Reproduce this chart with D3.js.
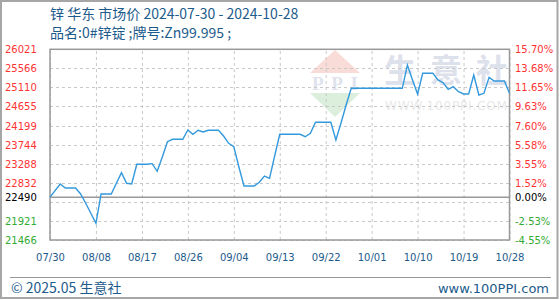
<!DOCTYPE html>
<html>
<head>
<meta charset="utf-8">
<script src="https://cdn.jsdelivr.net/npm/d3@7"></script>
<style>
  body { margin: 0; background: #fff; }
  svg { display: block; }
</style>
</head>
<body>
<div id="chart"></div>
<script>
// price series (zinc, East China)
const dates = ["2024-07-30","2024-08-01","2024-08-02","2024-08-04","2024-08-05","2024-08-06","2024-08-07","2024-08-08",
  "2024-08-09","2024-08-11","2024-08-12","2024-08-13","2024-08-14","2024-08-15","2024-08-16","2024-08-18","2024-08-19",
  "2024-08-20","2024-08-21","2024-08-22","2024-08-23","2024-08-25","2024-08-26","2024-08-27","2024-08-28","2024-08-29",
  "2024-08-30","2024-09-01","2024-09-02","2024-09-03","2024-09-04","2024-09-05","2024-09-06","2024-09-08","2024-09-09",
  "2024-09-10","2024-09-11","2024-09-12","2024-09-13","2024-09-17","2024-09-18","2024-09-19","2024-09-20","2024-09-23",
  "2024-09-24","2024-09-25","2024-09-26","2024-09-27","2024-10-07","2024-10-08","2024-10-09","2024-10-10","2024-10-11",
  "2024-10-13","2024-10-14","2024-10-15","2024-10-16","2024-10-17","2024-10-18","2024-10-19","2024-10-20","2024-10-21",
  "2024-10-22","2024-10-23","2024-10-24","2024-10-25","2024-10-27","2024-10-28"];
const prices = [22490,22804,22708,22708,22565,22343,22104,21865,
  22565,22565,22820,23074,22820,22804,23274,23274,23290,
  23107,23450,23814,23871,23871,24093,23991,24086,24046,
  24086,24086,23950,23776,23695,23210,22756,22756,22844,
  22995,22940,23472,23991,23991,23933,24015,24277,24277,
  23855,24261,24691,25089,25089,25646,25288,24953,25448,
  25448,25288,25223,25066,25128,25008,24953,24953,25407,
  24929,24970,25352,25264,25264,24970];

const basePrice = 22490;
const gridPrices = [21466,21921,22377,22832,23288,23744,24199,24655,25110,25566,26021];
const leftLabels = [26021,25566,25110,24655,24199,23744,23288,22832,22490,21921,21466];
const rightLabels = ["15.70%","13.68%","11.65%","9.63%","7.60%","5.58%","3.55%","1.52%","0.00%","-2.53%","-4.55%"];
const xTicks = ["2024-07-30","2024-08-08","2024-08-17","2024-08-26","2024-09-04","2024-09-13",
  "2024-09-22","2024-10-01","2024-10-10","2024-10-19","2024-10-28"];

const titleText = "锌 华东 市场价 2024-07-30 - 2024-10-28";
const subTitleText = "品名:0#锌锭 ;牌号:Zn99.995 ;";

const config = {
    width: 560,
    height: 300,
    left: 50,
    right: 509.5,
    top: 49.3,
    bottom: 240
};

const parse = d3.timeParse("%Y-%m-%d");
const data = dates.map((d, i) => ({date: parse(d), price: prices[i]}));

const svg = d3.select("#chart")
    .append("svg")
    .attr("width", config.width)
    .attr("height", config.height);

// outer frame
svg.append("rect")
    .attr("x", 1).attr("y", 1)
    .attr("width", 556.5).attr("height", 297)
    .attr("fill", "none")
    .attr("stroke", "#a6a6a6")
    .attr("stroke-width", 2);

const xScale = d3.scaleTime()
    .domain([parse("2024-07-30"), parse("2024-10-28")])
    .range([config.left, config.right]);

const yScale = d3.scaleLinear()
    .domain([21466, 26021])
    .range([config.bottom, config.top]);

// watermark
const wm = svg.append("g").attr("class", "watermark");
wm.append("path")
    .attr("d", "M335,50 L360,73 L310,73 Z")
    .attr("fill", "#f9dcd7");
wm.append("path")
    .attr("d", "M310,93 L360,93 L335,117 Z")
    .attr("fill", "#dcefdc");
wm.append("text")
    .attr("x", 335).attr("y", 90)
    .attr("text-anchor", "middle")
    .style("font-family", "'Liberation Serif', serif")
    .style("font-size", "19px")
    .style("font-weight", "bold")
    .attr("fill", "#dfe3ee")
    .attr("textLength", 46)
    .text("PPI");
wm.append("text")
    .attr("x", 384).attr("y", 82)
    .style("font-family", "'Noto Sans CJK SC', sans-serif")
    .style("font-size", "32px")
    .style("font-weight", "bold")
    .attr("fill", "#dde1eb")
    .attr("textLength", 124)
    .text("生意社");
wm.append("text")
    .attr("x", 385).attr("y", 110)
    .style("font-family", "'DejaVu Sans', sans-serif")
    .style("font-size", "12px")
    .attr("fill", "#e8e8e8")
    .attr("textLength", 122)
    .text("WWW.100PPI.COM");

// horizontal dashed grid
svg.append("g")
    .selectAll("line")
    .data(gridPrices)
    .enter().append("line")
    .attr("x1", config.left).attr("x2", config.right)
    .attr("y1", d => Math.round(yScale(d)) + 0.5)
    .attr("y2", d => Math.round(yScale(d)) + 0.5)
    .attr("stroke", "#c8c8c8")
    .attr("stroke-dasharray", "3,3");

// vertical dashed grid
svg.append("g")
    .attr("transform", "translate(0," + config.bottom + ")")
    .call(d3.axisBottom(xScale)
        .tickValues(xTicks.map(parse))
        .tickSize(-(config.bottom - config.top))
        .tickFormat(""))
    .call(g => g.select(".domain").remove())
    .call(g => g.selectAll(".tick line")
        .attr("stroke", "#c8c8c8")
        .attr("stroke-dasharray", "3,3"));

// base price line
svg.append("line")
    .attr("x1", config.left).attr("x2", config.right)
    .attr("y1", yScale(basePrice)).attr("y2", yScale(basePrice))
    .attr("stroke", "#999")
    .attr("stroke-width", 1.5);

// plot frame
svg.append("rect")
    .attr("x", config.left).attr("y", config.top)
    .attr("width", config.right - config.left)
    .attr("height", config.bottom - config.top)
    .attr("fill", "none")
    .attr("stroke", "#999")
    .attr("stroke-width", 1.5);

// price line
const line = d3.line()
    .x(d => xScale(d.date))
    .y(d => yScale(d.price));

svg.append("path")
    .datum(data)
    .attr("d", line)
    .attr("fill", "none")
    .attr("stroke", "#3399dd")
    .attr("stroke-width", 1.4);

const tickColor = v => v > basePrice ? "#ff3333" : (v < basePrice ? "#33aa33" : "#000");

// left labels
svg.append("g")
    .selectAll("text")
    .data(leftLabels)
    .enter().append("text")
    .attr("x", 5)
    .attr("y", d => yScale(d) + 4)
    .style("font-family", "'DejaVu Sans', sans-serif")
    .style("font-size", "10px")
    .attr("fill", d => tickColor(d))
    .text(d => d);

// right labels
svg.append("g")
    .selectAll("text")
    .data(rightLabels)
    .enter().append("text")
    .attr("x", 515)
    .attr("y", (d, i) => yScale(leftLabels[i]) + 4)
    .style("font-family", "'DejaVu Sans', sans-serif")
    .style("font-size", "10px")
    .attr("fill", (d, i) => tickColor(leftLabels[i]))
    .text(d => d);

// x labels
svg.append("g")
    .attr("transform", "translate(0," + config.bottom + ")")
    .call(d3.axisBottom(xScale)
        .tickValues(xTicks.map(parse))
        .tickSize(0)
        .tickPadding(14)
        .tickFormat(d3.timeFormat("%m/%d")))
    .call(g => g.select(".domain").remove())
    .call(g => g.selectAll(".tick text")
        .attr("fill", "#1d5b8c")
        .style("font-family", "'DejaVu Sans', sans-serif")
        .style("font-size", "10px"));

// titles
svg.append("text")
    .attr("x", 50).attr("y", 19)
    .style("font-family", "'Noto Sans CJK SC', sans-serif")
    .style("font-size", "14px")
    .attr("fill", "#1d5b8c")
    .text(titleText);

svg.append("text")
    .attr("x", 50).attr("y", 38)
    .style("font-family", "'Noto Sans CJK SC', sans-serif")
    .style("font-size", "14px")
    .attr("fill", "#1d5b8c")
    .text(subTitleText);

// footer
svg.append("line")
    .attr("x1", 10).attr("x2", 551)
    .attr("y1", 277.5).attr("y2", 277.5)
    .attr("stroke", "#999");

svg.append("text")
    .attr("x", 11).attr("y", 293)
    .style("font-family", "'Noto Sans CJK SC', sans-serif")
    .style("font-size", "14px")
    .attr("fill", "#1d5b8c")
    .text("© 2025.05 生意社");

svg.append("text")
    .attr("x", 549).attr("y", 293)
    .attr("text-anchor", "end")
    .style("font-family", "'DejaVu Sans', sans-serif")
    .style("font-size", "13px")
    .attr("fill", "#1d5b8c")
    .text("www.100PPI.com");
</script>
</body>
</html>
